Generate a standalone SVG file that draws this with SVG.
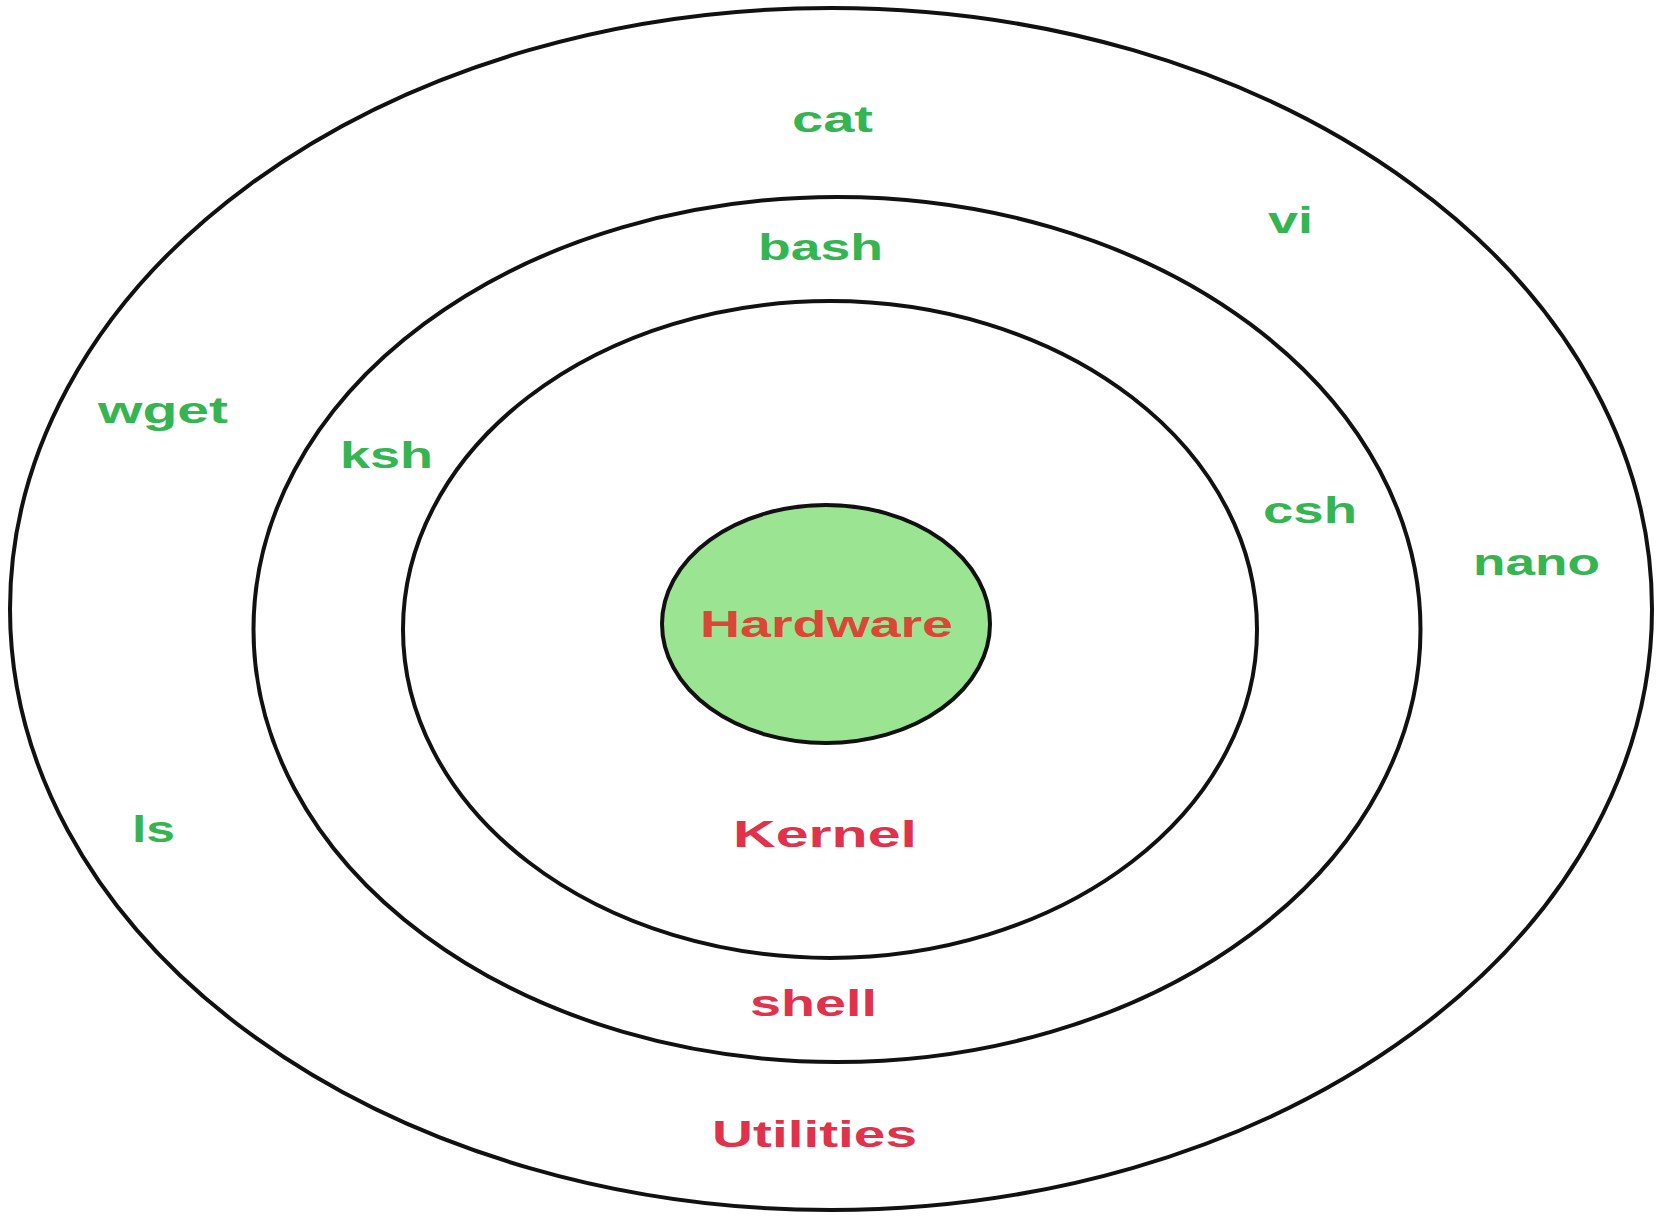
<svg xmlns="http://www.w3.org/2000/svg" width="1660" height="1217" viewBox="0 0 1660 1217">
<style>
.ring{fill:none;stroke:#111;stroke-width:4}
.core{fill:#9be592;stroke:#111;stroke-width:4}
.g{font-family:"Liberation Sans",Arial,sans-serif;font-weight:bold;font-size:36px;fill:#34b552}
.r{font-family:"Liberation Sans",Arial,sans-serif;font-weight:bold;font-size:37px;fill:#e0324a}
.hw{fill:#db4636}
</style>
<rect width="1660" height="1217" fill="#fff"/>
<g id="utilities">
<ellipse class="ring" cx="831" cy="609" rx="821" ry="601"/>
<text class="r" x="712" y="1147" textLength="205" lengthAdjust="spacingAndGlyphs">Utilities</text>
<text class="g" x="792" y="132" textLength="81" lengthAdjust="spacingAndGlyphs">cat</text>
<text class="g" x="1268" y="233" textLength="45" lengthAdjust="spacingAndGlyphs">vi</text>
<text class="g" x="98" y="423" textLength="130" lengthAdjust="spacingAndGlyphs">wget</text>
<text class="g" x="1473" y="575" textLength="127" lengthAdjust="spacingAndGlyphs">nano</text>
<text class="g" x="132" y="842" textLength="43" lengthAdjust="spacingAndGlyphs">ls</text>
</g>
<g id="shell">
<ellipse class="ring" cx="837" cy="629.5" rx="583.5" ry="432.5"/>
<text class="r" x="750" y="1016" textLength="127" lengthAdjust="spacingAndGlyphs">shell</text>
<text class="g" x="758" y="260" textLength="125" lengthAdjust="spacingAndGlyphs">bash</text>
<text class="g" x="340" y="468" textLength="93" lengthAdjust="spacingAndGlyphs">ksh</text>
<text class="g" x="1263" y="523" textLength="94" lengthAdjust="spacingAndGlyphs">csh</text>
</g>
<g id="kernel">
<ellipse class="ring" cx="830" cy="629.5" rx="427" ry="328.5"/>
<text class="r" x="733" y="847" textLength="184" lengthAdjust="spacingAndGlyphs">Kernel</text>
</g>
<g id="hardware">
<ellipse class="core" cx="826" cy="624" rx="164" ry="119"/>
<text class="r hw" x="700" y="637" textLength="253" lengthAdjust="spacingAndGlyphs">Hardware</text>
</g>
<g id="connectors"></g>
</svg>
